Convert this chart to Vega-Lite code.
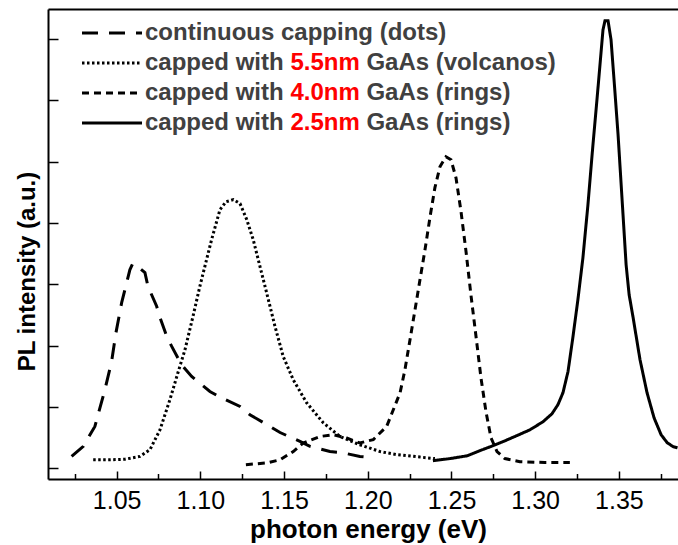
{
  "$schema": "https://vega.github.io/schema/vega-lite/v6.json",
  "width": 630,
  "height": 470,
  "autosize": {"type": "none"},
  "padding": {"left": 48, "top": 9, "right": 0, "bottom": 66},
  "background": "white",
  "config": {
    "view": {"stroke": null},
    "font": "Liberation Sans",
    "axis": {"grid": false, "domainColor": "black", "tickColor": "black", "domainWidth": 2, "tickWidth": 1.5}
  },
  "data": {
    "values": [
      {"series": "continuous capping (dots)", "E": 1.0231, "v": 0.38},
      {"series": "continuous capping (dots)", "E": 1.0301, "v": 0.71},
      {"series": "continuous capping (dots)", "E": 1.037, "v": 1.36},
      {"series": "continuous capping (dots)", "E": 1.043, "v": 2.56},
      {"series": "continuous capping (dots)", "E": 1.047, "v": 3.48},
      {"series": "continuous capping (dots)", "E": 1.0496, "v": 4.42},
      {"series": "continuous capping (dots)", "E": 1.053, "v": 5.4},
      {"series": "continuous capping (dots)", "E": 1.0579, "v": 6.47},
      {"series": "continuous capping (dots)", "E": 1.0596, "v": 6.67},
      {"series": "continuous capping (dots)", "E": 1.0621, "v": 6.6},
      {"series": "continuous capping (dots)", "E": 1.0669, "v": 6.38},
      {"series": "continuous capping (dots)", "E": 1.0687, "v": 5.93},
      {"series": "continuous capping (dots)", "E": 1.0739, "v": 5.28},
      {"series": "continuous capping (dots)", "E": 1.0759, "v": 4.91},
      {"series": "continuous capping (dots)", "E": 1.0799, "v": 4.3},
      {"series": "continuous capping (dots)", "E": 1.0829, "v": 3.97},
      {"series": "continuous capping (dots)", "E": 1.0888, "v": 3.37},
      {"series": "continuous capping (dots)", "E": 1.0948, "v": 2.99},
      {"series": "continuous capping (dots)", "E": 1.1057, "v": 2.5},
      {"series": "continuous capping (dots)", "E": 1.1127, "v": 2.29},
      {"series": "continuous capping (dots)", "E": 1.1237, "v": 2.01},
      {"series": "continuous capping (dots)", "E": 1.1296, "v": 1.74},
      {"series": "continuous capping (dots)", "E": 1.1416, "v": 1.36},
      {"series": "continuous capping (dots)", "E": 1.1476, "v": 1.16},
      {"series": "continuous capping (dots)", "E": 1.1595, "v": 0.87},
      {"series": "continuous capping (dots)", "E": 1.1655, "v": 0.71},
      {"series": "continuous capping (dots)", "E": 1.1774, "v": 0.54},
      {"series": "continuous capping (dots)", "E": 1.1851, "v": 0.5},
      {"series": "continuous capping (dots)", "E": 1.1953, "v": 0.38},
      {"series": "continuous capping (dots)", "E": 1.2031, "v": 0.34},

      {"series": "capped with 5.5nm GaAs (volcanos)", "E": 1.036, "v": 0.27},
      {"series": "capped with 5.5nm GaAs (volcanos)", "E": 1.046, "v": 0.27},
      {"series": "capped with 5.5nm GaAs (volcanos)", "E": 1.055, "v": 0.29},
      {"series": "capped with 5.5nm GaAs (volcanos)", "E": 1.0639, "v": 0.38},
      {"series": "capped with 5.5nm GaAs (volcanos)", "E": 1.0699, "v": 0.6},
      {"series": "capped with 5.5nm GaAs (volcanos)", "E": 1.0759, "v": 1.25},
      {"series": "capped with 5.5nm GaAs (volcanos)", "E": 1.0818, "v": 2.23},
      {"series": "capped with 5.5nm GaAs (volcanos)", "E": 1.0866, "v": 3.11},
      {"series": "capped with 5.5nm GaAs (volcanos)", "E": 1.0908, "v": 3.86},
      {"series": "capped with 5.5nm GaAs (volcanos)", "E": 1.0956, "v": 4.95},
      {"series": "capped with 5.5nm GaAs (volcanos)", "E": 1.0997, "v": 5.93},
      {"series": "capped with 5.5nm GaAs (volcanos)", "E": 1.1037, "v": 6.8},
      {"series": "capped with 5.5nm GaAs (volcanos)", "E": 1.1067, "v": 7.45},
      {"series": "capped with 5.5nm GaAs (volcanos)", "E": 1.1117, "v": 8.43},
      {"series": "capped with 5.5nm GaAs (volcanos)", "E": 1.1153, "v": 8.69},
      {"series": "capped with 5.5nm GaAs (volcanos)", "E": 1.1197, "v": 8.76},
      {"series": "capped with 5.5nm GaAs (volcanos)", "E": 1.1237, "v": 8.63},
      {"series": "capped with 5.5nm GaAs (volcanos)", "E": 1.1277, "v": 8.11},
      {"series": "capped with 5.5nm GaAs (volcanos)", "E": 1.1316, "v": 7.45},
      {"series": "capped with 5.5nm GaAs (volcanos)", "E": 1.1356, "v": 6.58},
      {"series": "capped with 5.5nm GaAs (volcanos)", "E": 1.1396, "v": 5.72},
      {"series": "capped with 5.5nm GaAs (volcanos)", "E": 1.1446, "v": 4.62},
      {"series": "capped with 5.5nm GaAs (volcanos)", "E": 1.1495, "v": 3.64},
      {"series": "capped with 5.5nm GaAs (volcanos)", "E": 1.1555, "v": 2.88},
      {"series": "capped with 5.5nm GaAs (volcanos)", "E": 1.1635, "v": 2.13},
      {"series": "capped with 5.5nm GaAs (volcanos)", "E": 1.1734, "v": 1.48},
      {"series": "capped with 5.5nm GaAs (volcanos)", "E": 1.1834, "v": 1.03},
      {"series": "capped with 5.5nm GaAs (volcanos)", "E": 1.1953, "v": 0.76},
      {"series": "capped with 5.5nm GaAs (volcanos)", "E": 1.2073, "v": 0.54},
      {"series": "capped with 5.5nm GaAs (volcanos)", "E": 1.2173, "v": 0.44},
      {"series": "capped with 5.5nm GaAs (volcanos)", "E": 1.2312, "v": 0.36},
      {"series": "capped with 5.5nm GaAs (volcanos)", "E": 1.2401, "v": 0.31},

      {"series": "capped with 4.0nm GaAs (rings)", "E": 1.1272, "v": 0.11},
      {"series": "capped with 4.0nm GaAs (rings)", "E": 1.1396, "v": 0.17},
      {"series": "capped with 4.0nm GaAs (rings)", "E": 1.1476, "v": 0.27},
      {"series": "capped with 4.0nm GaAs (rings)", "E": 1.1555, "v": 0.54},
      {"series": "capped with 4.0nm GaAs (rings)", "E": 1.1615, "v": 0.82},
      {"series": "capped with 4.0nm GaAs (rings)", "E": 1.1714, "v": 1.03},
      {"series": "capped with 4.0nm GaAs (rings)", "E": 1.1792, "v": 1.09},
      {"series": "capped with 4.0nm GaAs (rings)", "E": 1.1874, "v": 0.98},
      {"series": "capped with 4.0nm GaAs (rings)", "E": 1.1953, "v": 0.82},
      {"series": "capped with 4.0nm GaAs (rings)", "E": 1.2033, "v": 0.93},
      {"series": "capped with 4.0nm GaAs (rings)", "E": 1.2113, "v": 1.36},
      {"series": "capped with 4.0nm GaAs (rings)", "E": 1.2193, "v": 2.46},
      {"series": "capped with 4.0nm GaAs (rings)", "E": 1.2222, "v": 3.21},
      {"series": "capped with 4.0nm GaAs (rings)", "E": 1.2252, "v": 4.18},
      {"series": "capped with 4.0nm GaAs (rings)", "E": 1.2282, "v": 5.16},
      {"series": "capped with 4.0nm GaAs (rings)", "E": 1.2312, "v": 6.15},
      {"series": "capped with 4.0nm GaAs (rings)", "E": 1.2342, "v": 7.13},
      {"series": "capped with 4.0nm GaAs (rings)", "E": 1.2372, "v": 8.2},
      {"series": "capped with 4.0nm GaAs (rings)", "E": 1.2401, "v": 9.15},
      {"series": "capped with 4.0nm GaAs (rings)", "E": 1.2431, "v": 9.83},
      {"series": "capped with 4.0nm GaAs (rings)", "E": 1.2467, "v": 10.16},
      {"series": "capped with 4.0nm GaAs (rings)", "E": 1.2497, "v": 10.06},
      {"series": "capped with 4.0nm GaAs (rings)", "E": 1.2527, "v": 9.47},
      {"series": "capped with 4.0nm GaAs (rings)", "E": 1.2557, "v": 8.37},
      {"series": "capped with 4.0nm GaAs (rings)", "E": 1.2587, "v": 7.06},
      {"series": "capped with 4.0nm GaAs (rings)", "E": 1.2616, "v": 5.66},
      {"series": "capped with 4.0nm GaAs (rings)", "E": 1.2646, "v": 4.32},
      {"series": "capped with 4.0nm GaAs (rings)", "E": 1.2676, "v": 2.95},
      {"series": "capped with 4.0nm GaAs (rings)", "E": 1.2706, "v": 1.84},
      {"series": "capped with 4.0nm GaAs (rings)", "E": 1.2736, "v": 0.99},
      {"series": "capped with 4.0nm GaAs (rings)", "E": 1.2772, "v": 0.54},
      {"series": "capped with 4.0nm GaAs (rings)", "E": 1.2819, "v": 0.31},
      {"series": "capped with 4.0nm GaAs (rings)", "E": 1.2909, "v": 0.21},
      {"series": "capped with 4.0nm GaAs (rings)", "E": 1.3058, "v": 0.18},
      {"series": "capped with 4.0nm GaAs (rings)", "E": 1.3207, "v": 0.18},

      {"series": "capped with 2.5nm GaAs (rings)", "E": 1.2389, "v": 0.24},
      {"series": "capped with 2.5nm GaAs (rings)", "E": 1.2491, "v": 0.31},
      {"series": "capped with 2.5nm GaAs (rings)", "E": 1.2593, "v": 0.4},
      {"series": "capped with 2.5nm GaAs (rings)", "E": 1.267, "v": 0.57},
      {"series": "capped with 2.5nm GaAs (rings)", "E": 1.2748, "v": 0.73},
      {"series": "capped with 2.5nm GaAs (rings)", "E": 1.2819, "v": 0.89},
      {"series": "capped with 2.5nm GaAs (rings)", "E": 1.2891, "v": 1.06},
      {"series": "capped with 2.5nm GaAs (rings)", "E": 1.2969, "v": 1.25},
      {"series": "capped with 2.5nm GaAs (rings)", "E": 1.3046, "v": 1.51},
      {"series": "capped with 2.5nm GaAs (rings)", "E": 1.31, "v": 1.77},
      {"series": "capped with 2.5nm GaAs (rings)", "E": 1.3136, "v": 2.07},
      {"series": "capped with 2.5nm GaAs (rings)", "E": 1.3166, "v": 2.46},
      {"series": "capped with 2.5nm GaAs (rings)", "E": 1.3196, "v": 3.15},
      {"series": "capped with 2.5nm GaAs (rings)", "E": 1.3225, "v": 4.26},
      {"series": "capped with 2.5nm GaAs (rings)", "E": 1.3255, "v": 5.49},
      {"series": "capped with 2.5nm GaAs (rings)", "E": 1.3285, "v": 6.86},
      {"series": "capped with 2.5nm GaAs (rings)", "E": 1.3315, "v": 8.59},
      {"series": "capped with 2.5nm GaAs (rings)", "E": 1.3345, "v": 10.55},
      {"series": "capped with 2.5nm GaAs (rings)", "E": 1.3369, "v": 12.02},
      {"series": "capped with 2.5nm GaAs (rings)", "E": 1.3387, "v": 13.16},
      {"series": "capped with 2.5nm GaAs (rings)", "E": 1.3405, "v": 14.3},
      {"series": "capped with 2.5nm GaAs (rings)", "E": 1.3417, "v": 14.6},
      {"series": "capped with 2.5nm GaAs (rings)", "E": 1.3435, "v": 14.6},
      {"series": "capped with 2.5nm GaAs (rings)", "E": 1.3453, "v": 13.98},
      {"series": "capped with 2.5nm GaAs (rings)", "E": 1.3471, "v": 12.67},
      {"series": "capped with 2.5nm GaAs (rings)", "E": 1.3495, "v": 10.88},
      {"series": "capped with 2.5nm GaAs (rings)", "E": 1.3519, "v": 8.76},
      {"series": "capped with 2.5nm GaAs (rings)", "E": 1.3543, "v": 6.64},
      {"series": "capped with 2.5nm GaAs (rings)", "E": 1.3561, "v": 5.66},
      {"series": "capped with 2.5nm GaAs (rings)", "E": 1.3584, "v": 4.94},
      {"series": "capped with 2.5nm GaAs (rings)", "E": 1.3626, "v": 3.54},
      {"series": "capped with 2.5nm GaAs (rings)", "E": 1.3668, "v": 2.46},
      {"series": "capped with 2.5nm GaAs (rings)", "E": 1.371, "v": 1.64},
      {"series": "capped with 2.5nm GaAs (rings)", "E": 1.3752, "v": 1.09},
      {"series": "capped with 2.5nm GaAs (rings)", "E": 1.3788, "v": 0.83},
      {"series": "capped with 2.5nm GaAs (rings)", "E": 1.3824, "v": 0.7},
      {"series": "capped with 2.5nm GaAs (rings)", "E": 1.385, "v": 0.66}
    ]
  },
  "resolve": {"axis": {"x": "independent"}},
  "layer": [
    {
      "transform": [
        {"calculate": "datum.series + ' '", "as": "thickness"},
        {"calculate": "datum.series + '  '", "as": "cap"}
      ],
      "mark": {"type": "line", "strokeWidth": 3, "strokeCap": "butt", "clip": true},
      "encoding": {
        "x": {
          "field": "E", "type": "quantitative",
          "scale": {"domain": [1.009, 1.3853], "nice": false, "zero": false},
          "axis": {
            "orient": "bottom",
            "values": [1.05, 1.1, 1.15, 1.2, 1.25, 1.3, 1.35],
            "format": ".2f",
            "tickSize": -8,
            "labelFontSize": 25,
            "labelColor": "black",
            "labelPadding": 17,
            "labelFlush": false,
            "title": "photon energy (eV)",
            "titleFontSize": 26,
            "titleFontWeight": "bold",
            "titleColor": "black",
            "titlePadding": 3,
            "titleX": 320
          }
        },
        "y": {
          "field": "v", "type": "quantitative",
          "scale": {"domain": [-0.356, 14.98], "nice": false, "zero": false},
          "axis": {
            "values": [0, 1, 2, 3, 4, 5, 6, 7, 8, 9, 10, 11, 12, 13, 14],
            "tickSize": -10,
            "labels": false,
            "title": "PL intensity (a.u.)",
            "titleFontSize": 24,
            "titleFontWeight": "bold",
            "titleColor": "black",
            "titlePadding": 8,
            "titleY": 262
          }
        },
        "strokeDash": {
          "field": "series", "type": "nominal",
          "scale": {
            "domain": ["continuous capping (dots)", "capped with 5.5nm GaAs (volcanos)", "capped with 4.0nm GaAs (rings)", "capped with 2.5nm GaAs (rings)"],
            "range": [[16, 11], [2.5, 2.5], [7, 5], [1, 0]]
          },
          "legend": {
            "orient": "none", "legendX": 52, "legendY": 12, "padding": 0,
            "title": null,
            "symbolType": "M-3,0H3", "symbolSize": 400, "symbolStrokeWidth": 3, "symbolStrokeColor": "black", "symbolFillColor": "transparent",
            "labelFont": "Liberation Sans", "labelFontWeight": "bold", "labelFontSize": 24, "labelColor": "#404040",
            "labelOffset": 21, "rowPadding": 6, "labelLimit": 0,
            "labelExpr": "indexof(datum.label, 'nm') > 0 ? 'capped with' : datum.label"
          }
        },
        "color": {
          "field": "thickness", "type": "nominal",
          "scale": {
            "domain": ["continuous capping (dots) ", "capped with 5.5nm GaAs (volcanos) ", "capped with 4.0nm GaAs (rings) ", "capped with 2.5nm GaAs (rings) "],
            "range": ["black", "black", "black", "black"]
          },
          "legend": {
            "orient": "none", "legendX": 52, "legendY": 12, "padding": 0,
            "title": null,
            "symbolType": "M-3,0H3", "symbolSize": 400, "symbolStrokeWidth": 3, "symbolOpacity": 0,
            "labelFont": "Liberation Sans", "labelFontWeight": "bold", "labelFontSize": 24, "labelColor": "#ff0000",
            "labelOffset": 166.4, "rowPadding": 6, "labelLimit": 0,
            "labelExpr": "indexof(datum.label, 'nm') > 0 ? substring(datum.label, 12, indexof(datum.label, 'nm') + 2) : ' '"
          }
        },
        "opacity": {
          "field": "cap", "type": "ordinal",
          "scale": {
            "domain": ["continuous capping (dots)  ", "capped with 5.5nm GaAs (volcanos)  ", "capped with 4.0nm GaAs (rings)  ", "capped with 2.5nm GaAs (rings)  "],
            "range": [1, 1, 1, 1]
          },
          "legend": {
            "orient": "none", "legendX": 52, "legendY": 12, "padding": 0,
            "title": null,
            "symbolType": "M-3,0H3", "symbolSize": 400, "symbolStrokeWidth": 0, "symbolStrokeColor": "transparent", "symbolFillColor": "transparent", "symbolOpacity": 0,
            "labelFont": "Liberation Sans", "labelFontWeight": "bold", "labelFontSize": 24, "labelColor": "#404040",
            "labelOffset": 242.4, "rowPadding": 6, "labelLimit": 0,
            "labelExpr": "indexof(datum.label, 'nm') > 0 ? trim(substring(datum.label, indexof(datum.label, 'nm') + 3, length(datum.label))) : ' '"
          }
        }
      }
    },
    {
      "mark": {"type": "line", "strokeOpacity": 0},
      "encoding": {
        "x": {
          "field": "E", "type": "quantitative",
          "axis": {
            "orient": "bottom",
            "values": [1.025, 1.075, 1.125, 1.175, 1.225, 1.275, 1.325, 1.375],
            "tickSize": -5.5, "labels": false, "domain": false, "title": null
          }
        },
        "y": {"field": "v", "type": "quantitative"},
        "detail": {"field": "series"}
      }
    },
    {
      "mark": {"type": "line", "strokeOpacity": 0},
      "encoding": {
        "x": {
          "field": "E", "type": "quantitative",
          "axis": {"orient": "top", "ticks": false, "labels": false, "domain": true, "title": null}
        },
        "y": {"field": "v", "type": "quantitative"},
        "detail": {"field": "series"}
      }
    }
  ]
}
